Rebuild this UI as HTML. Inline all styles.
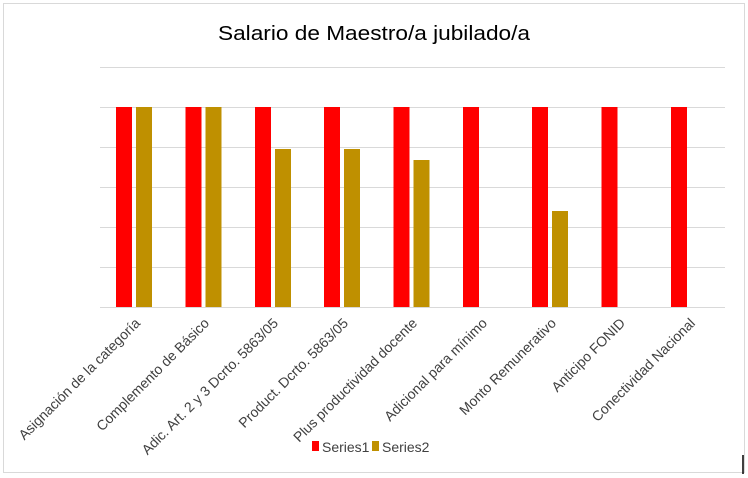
<!DOCTYPE html>
<html><head><meta charset="utf-8"><style>
html,body{margin:0;padding:0;background:#fff;}
svg{display:block;font-family:"Liberation Sans",sans-serif;}
</style></head><body>
<svg width="748" height="478" viewBox="0 0 748 478" xmlns="http://www.w3.org/2000/svg">
<rect x="3.5" y="3.5" width="741" height="469" fill="#fff" stroke="#d9d9d9"/>
<line x1="743" y1="455" x2="743" y2="474" stroke="#000" stroke-width="1.5"/>
<text x="374" y="40" text-anchor="middle" font-size="20" fill="#000" textLength="312" lengthAdjust="spacingAndGlyphs">Salario de Maestro/a jubilado/a</text>
<g stroke="#d9d9d9" stroke-width="1">
<line x1="100" y1="67.5" x2="725" y2="67.5"/>
<line x1="100" y1="107.5" x2="725" y2="107.5"/>
<line x1="100" y1="147.5" x2="725" y2="147.5"/>
<line x1="100" y1="187.5" x2="725" y2="187.5"/>
<line x1="100" y1="227.5" x2="725" y2="227.5"/>
<line x1="100" y1="267.5" x2="725" y2="267.5"/>
<line x1="100" y1="307.5" x2="725" y2="307.5"/>
</g>
<g fill="#ff0000">
<rect x="116" y="107" width="16" height="200"/>
<rect x="185.5" y="107" width="16" height="200"/>
<rect x="255" y="107" width="16" height="200"/>
<rect x="324" y="107" width="16" height="200"/>
<rect x="393.5" y="107" width="16" height="200"/>
<rect x="463" y="107" width="16" height="200"/>
<rect x="532" y="107" width="16" height="200"/>
<rect x="601.5" y="107" width="16" height="200"/>
<rect x="671" y="107" width="16" height="200"/>
</g>
<g fill="#bf9000">
<rect x="136" y="107" width="16" height="200"/>
<rect x="205.5" y="107" width="16" height="200"/>
<rect x="275" y="149" width="16" height="158"/>
<rect x="344" y="149" width="16" height="158"/>
<rect x="413.5" y="160" width="16" height="147"/>
<rect x="552" y="211" width="16" height="96"/>
</g>
<g font-size="14" fill="#404040" text-anchor="end">
<text transform="translate(141,324) rotate(-45)">Asignación de la categoría</text>
<text transform="translate(210,324) rotate(-45)">Complemento de Básico</text>
<text transform="translate(279,324) rotate(-45)">Adic. Art. 2 y 3 Dcrto. 5863/05</text>
<text transform="translate(349,324) rotate(-45)">Product. Dcrto. 5863/05</text>
<text transform="translate(418,324) rotate(-45)">Plus productividad docente</text>
<text transform="translate(488,324) rotate(-45)">Adicional para mínimo</text>
<text transform="translate(557,324) rotate(-45)">Monto Remunerativo</text>
<text transform="translate(626,324) rotate(-45)">Anticipo FONID</text>
<text transform="translate(696,324) rotate(-45)">Conectividad Nacional</text>
</g>
<rect x="312" y="441" width="7" height="10" fill="#ff0000"/>
<text x="322" y="452" font-size="14" fill="#404040">Series1</text>
<rect x="372" y="441" width="7" height="10" fill="#bf9000"/>
<text x="382" y="452" font-size="14" fill="#404040">Series2</text>
</svg>
</body></html>
